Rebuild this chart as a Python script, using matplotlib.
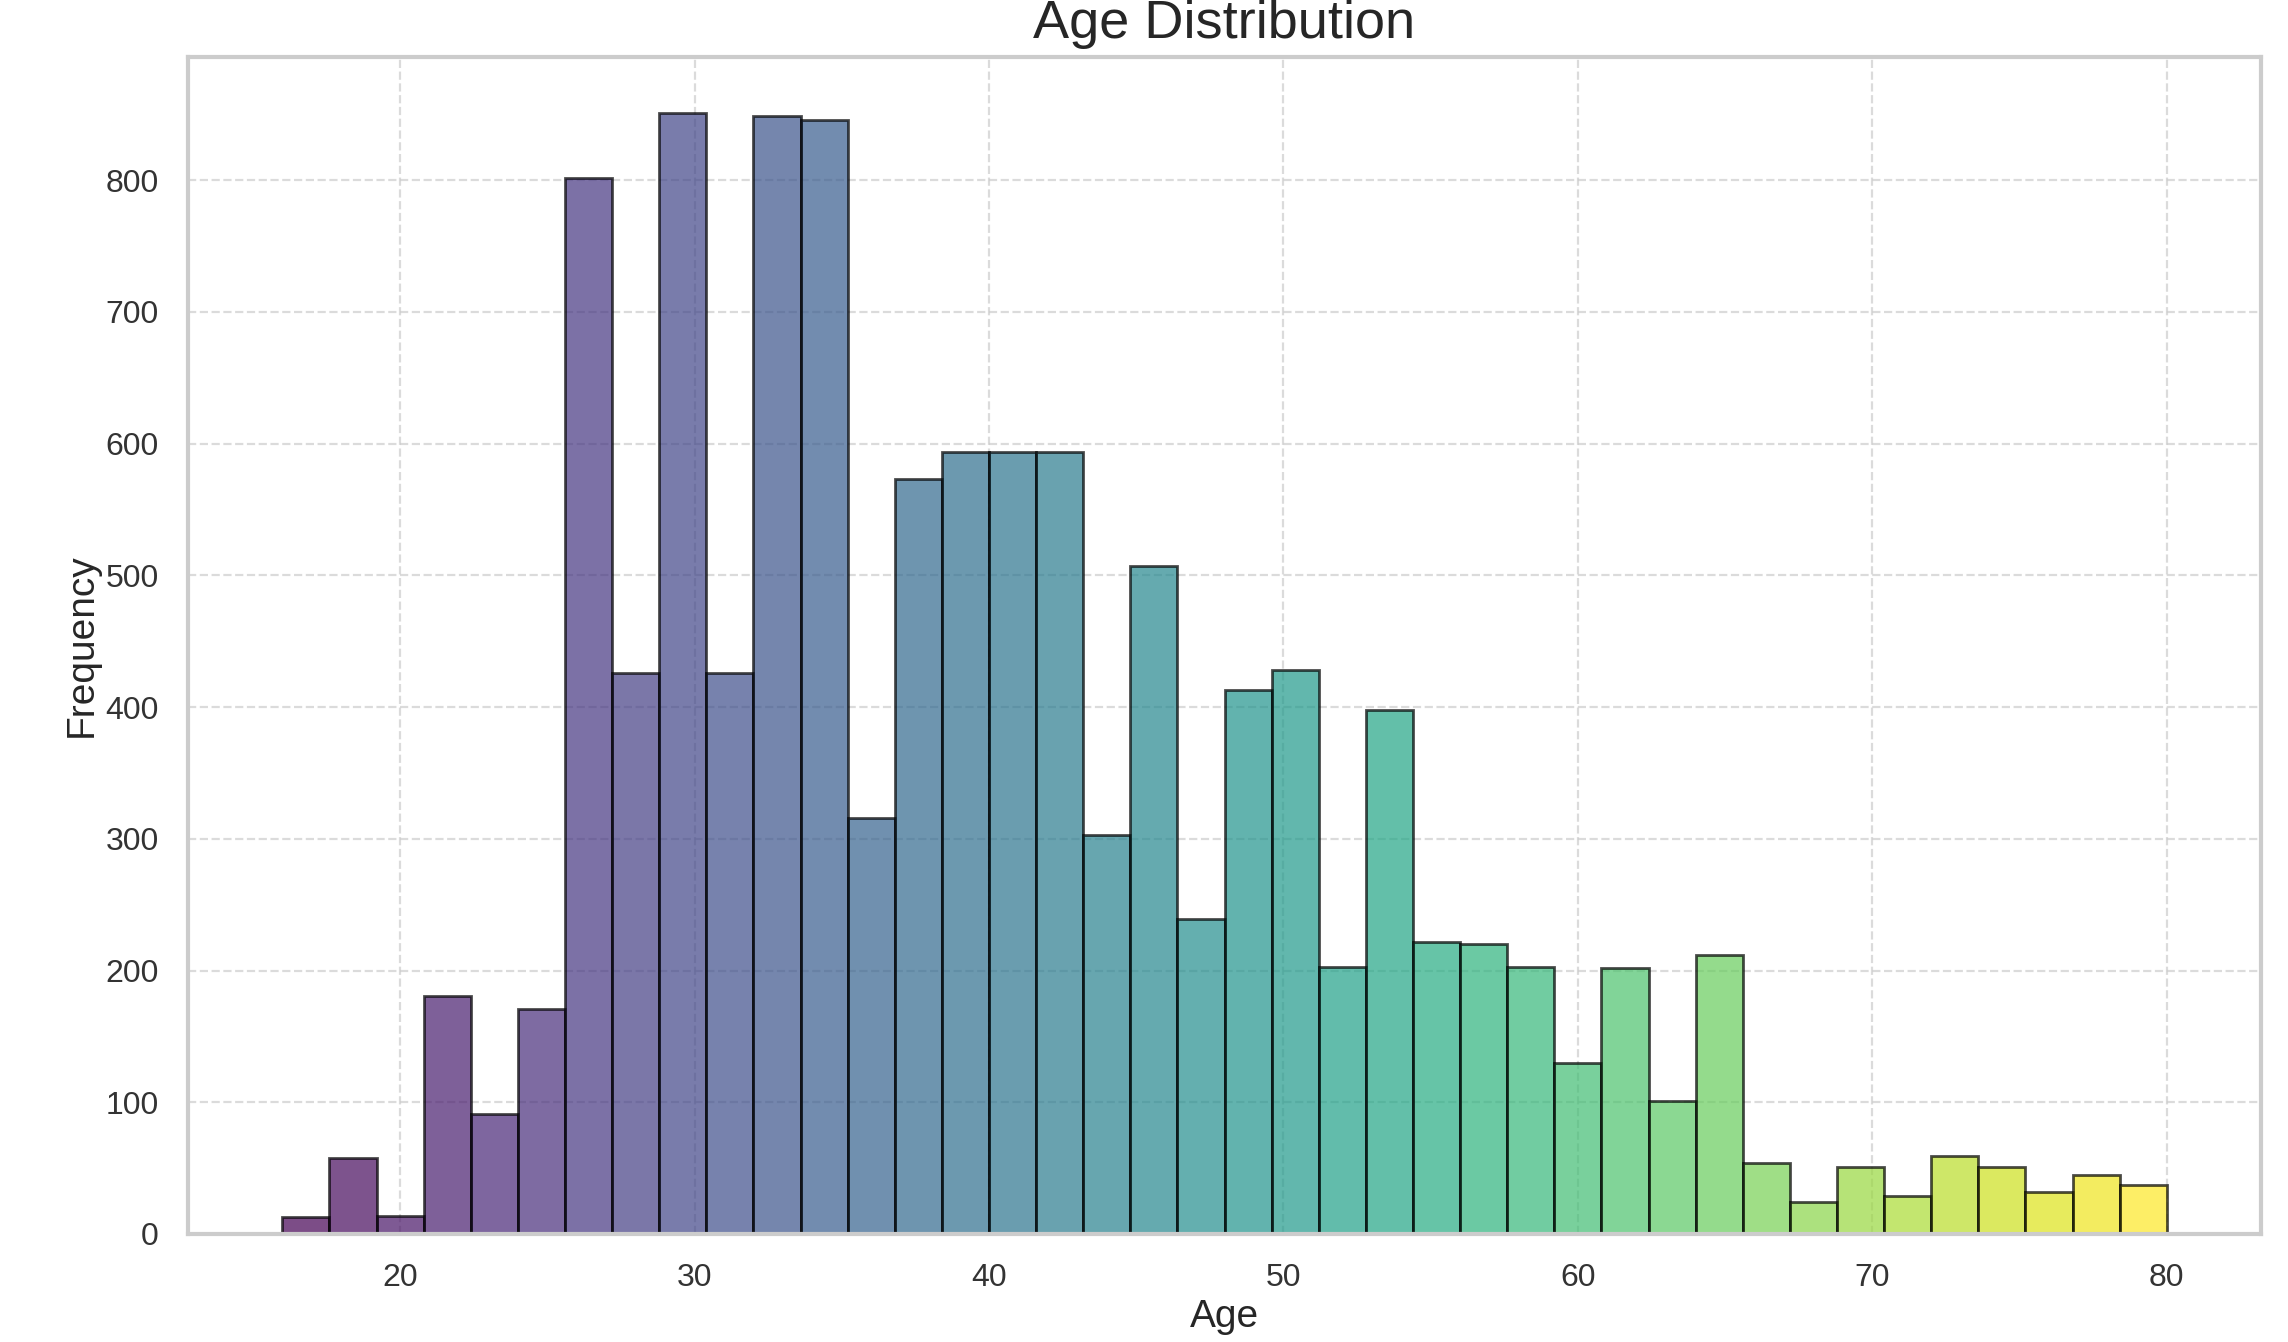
import numpy as np
import matplotlib
matplotlib.use('Agg')
import matplotlib.pyplot as plt
import seaborn as sns

#------------------------------------------------------------#
# data: histogram counts                  #
#------------------------------------------------------------#

bin_start = 16
bin_end = 80
n_bins = 40

counts = [13, 58, 14, 181, 91, 171, 802, 426, 851, 426,
          849, 846, 316, 573, 594, 594, 594, 303, 507, 239,
          413, 428, 203, 398, 222, 220, 203, 130, 202, 101,
          212, 54, 24, 51, 29, 59, 51, 32, 45, 37]

x_ticks = [20, 30, 40, 50, 60, 70, 80]
y_ticks = [0, 100, 200, 300, 400, 500, 600, 700, 800]

#------------------------------------------------------------#
# plot                                                       #
#------------------------------------------------------------#

sns.set_style('whitegrid')
plt.rcParams['font.family'] = ['Liberation Sans', 'DejaVu Sans']

fig = plt.figure(figsize=(11.44, 6.71), dpi=200)
ax = fig.add_axes([0.0822, 0.0805, 0.906, 0.877])

edges = np.linspace(bin_start, bin_end, n_bins + 1)
colors = plt.cm.viridis(np.linspace(0, 1, n_bins))

ax.bar(edges[:-1], counts, width=np.diff(edges), align='edge',
       color=colors, alpha=0.7, edgecolor='black', linewidth=1.0)

ax.set_xticks(x_ticks)
ax.set_yticks(y_ticks)
ax.tick_params(axis='both', labelsize=11.5, colors='#333333', pad=7)
ax.grid(True, linestyle='--', color='#cccccc', alpha=0.7)
ax.set_axisbelow(True)

ax.set_title('Age Distribution', fontsize=19.5, color='#262626', pad=7)
ax.set_xlabel('Age', fontsize=14, color='#262626', labelpad=2)
ax.set_ylabel('Frequency', fontsize=14, color='#262626', labelpad=2)

for pos in ['left', 'right', 'top', 'bottom']:
    ax.spines[pos].set_color('#cccccc')
    ax.spines[pos].set_linewidth(1.5)

fig.savefig('out.png', dpi=200)
